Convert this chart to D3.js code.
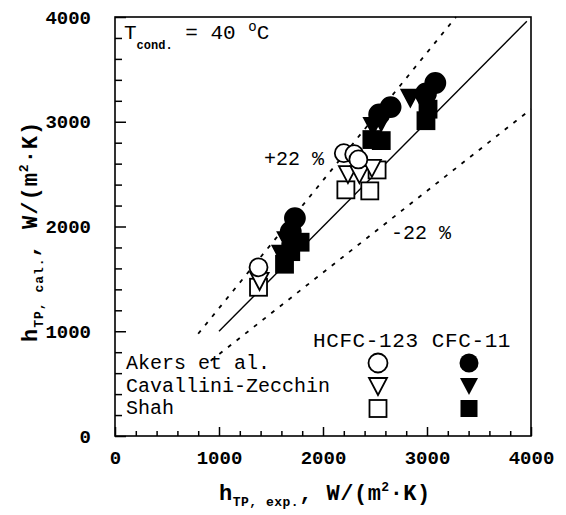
<!DOCTYPE html>
<html>
<head>
<meta charset="utf-8">
<script src="https://cdn.jsdelivr.net/npm/d3@7"></script>
<style>
  body { margin: 0; background: #fff; }
  text { font-family: "Liberation Mono", "DejaVu Sans Mono", monospace; fill: #000; }
</style>
</head>
<body>
<div id="block"></div>
<script>
// data
var akers123 = [[1380, 1610], [2200, 2700], [2300, 2690], [2340, 2640]];
var cz123    = [[1390, 1480], [2240, 2500], [2350, 2500], [2470, 2560]];
var shah123  = [[1380, 1420], [2220, 2350], [2450, 2340], [2520, 2540]];

var akers11 = [[1730, 2080], [1690, 1950], [2650, 3140], [2540, 3070], [3080, 3370], [2990, 3270]];
var cz11    = [[1650, 1870], [1600, 1740], [2480, 2960], [2560, 3000], [2840, 3230], [2960, 3200]];
var shah11  = [[1780, 1850], [1630, 1640], [1690, 1760], [2470, 2830], [2560, 2820], [2990, 3010], [3010, 3120]];

var xTicks = d3.range(0, 4001, 200);
var yTicks = d3.range(0, 4001, 200);

var legendRows = ["Akers et al.", "Cavallini-Zecchin", "Shah"];

// dimensions
var svg_dx = 566, svg_dy = 515;
var x = d3.scaleLinear().domain([0, 4000]).range([115, 531]);
var y = d3.scaleLinear().domain([0, 4000]).range([436, 17]);

var svg = d3.select("#block").append("svg")
    .attr("width", svg_dx)
    .attr("height", svg_dy);

// frame
svg.append("rect")
    .attr("x", x(0)).attr("y", y(4000))
    .attr("width", x(4000) - x(0)).attr("height", y(0) - y(4000))
    .attr("fill", "none").attr("stroke", "#000").attr("stroke-width", 1.6);

// x axis, ticks pointing inward
var xAxis = svg.append("g")
    .attr("transform", "translate(0," + y(0) + ")")
    .call(d3.axisBottom(x).tickValues(xTicks).tickSize(-5).tickPadding(22)
        .tickFormat(function (d) { return d % 1000 === 0 ? d : ""; }));
xAxis.select(".domain").remove();
xAxis.selectAll(".tick line")
    .attr("stroke-width", 1.5)
    .attr("y2", function (d) { return d % 1000 === 0 ? -9 : -5; });
xAxis.selectAll(".tick text")
    .style("font-size", "19px").style("font-weight", "bold")
    .style("font-family", "'Liberation Mono', monospace").attr("dy", "0.3em");

// y axis
var yAxis = svg.append("g")
    .attr("transform", "translate(" + x(0) + ",0)")
    .call(d3.axisLeft(y).tickValues(yTicks).tickSize(-7).tickPadding(24)
        .tickFormat(function (d) { return d % 1000 === 0 ? d : ""; }));
yAxis.select(".domain").remove();
yAxis.selectAll(".tick line")
    .attr("stroke-width", 1.5)
    .attr("x2", function (d) { return d % 1000 === 0 ? 11 : 7; });
yAxis.selectAll(".tick text")
    .style("font-size", "19px").style("font-weight", "bold")
    .style("font-family", "'Liberation Mono', monospace");

// reference lines
var line = d3.line().x(function (d) { return x(d[0]); }).y(function (d) { return y(d[1]); });
var upper = [800, 4000 / 1.22].map(function (v) { return [v, v * 1.22]; });
var lower = [920, 4000].map(function (v) { return [v, v * 0.78]; });
var diag = [1000, 3960].map(function (v) { return [v, v]; });

svg.append("path").attr("d", line(diag))
    .attr("stroke", "#000").attr("stroke-width", 1.4).attr("fill", "none");
svg.append("path").attr("d", line(upper))
    .attr("stroke", "#000").attr("stroke-width", 1.8).attr("fill", "none")
    .attr("stroke-dasharray", "4,7");
svg.append("path").attr("d", line(lower))
    .attr("stroke", "#000").attr("stroke-width", 1.8).attr("fill", "none")
    .attr("stroke-dasharray", "4,7");

// markers
var triPath = "M-9,-8L9,-8L0,9Z";

function circles(data, filled) {
    svg.append("g").selectAll("circle").data(data).enter().append("circle")
        .attr("cx", function (d) { return x(d[0]); })
        .attr("cy", function (d) { return y(d[1]); })
        .attr("r", filled ? 10 : 9)
        .attr("fill", filled ? "#000" : "#fff")
        .attr("stroke", "#000").attr("stroke-width", 1.8);
}
function triangles(data, filled) {
    svg.append("g").selectAll("path").data(data).enter().append("path")
        .attr("d", triPath)
        .attr("transform", function (d) { return "translate(" + x(d[0]) + "," + y(d[1]) + ")"; })
        .attr("fill", filled ? "#000" : "#fff")
        .attr("stroke", "#000").attr("stroke-width", 1.8);
}
function squares(data, filled) {
    svg.append("g").selectAll("rect").data(data).enter().append("rect")
        .attr("x", function (d) { return x(d[0]) - 8.5; })
        .attr("y", function (d) { return y(d[1]) - 8.5; })
        .attr("width", 17).attr("height", 17)
        .attr("fill", filled ? "#000" : "#fff")
        .attr("stroke", "#000").attr("stroke-width", 1.8);
}

squares(shah123, false);
triangles(cz123, false);
circles(akers123, false);
squares(shah11, true);
triangles(cz11, true);
circles(akers11, true);

// annotations
var t = svg.append("text").attr("x", 124).attr("y", 39).style("font-size", "21px");
t.append("tspan").text("T");
t.append("tspan").attr("dy", 10).style("font-size", "12px").style("font-weight", "bold").text("cond.");
t.append("tspan").attr("dy", -10).text(" = 40 ");
t.append("tspan").attr("dy", -8).style("font-size", "14px").text("o");
t.append("tspan").attr("dy", 8).text("C");

svg.append("text").attr("x", 264).attr("y", 165).style("font-size", "20px").text("+22 %");
svg.append("text").attr("x", 391).attr("y", 239).style("font-size", "20px").text("-22 %");

// legend
svg.append("text").attr("x", 313).attr("y", 347).style("font-size", "21px")
    .style("letter-spacing", "0.6px").text("HCFC-123 CFC-11");
legendRows.forEach(function (name, i) {
    var ly = 363 + i * 22.5;
    svg.append("text").attr("x", 126).attr("y", ly + 6).style("font-size", "20px").text(name);
});
var lgX1 = 378, lgX2 = 469;
svg.append("circle").attr("cx", lgX1).attr("cy", 363).attr("r", 9.5)
    .attr("fill", "#fff").attr("stroke", "#000").attr("stroke-width", 1.8);
svg.append("circle").attr("cx", lgX2).attr("cy", 363).attr("r", 9.5).attr("fill", "#000");
svg.append("path").attr("d", triPath).attr("transform", "translate(" + lgX1 + ",386)")
    .attr("fill", "#fff").attr("stroke", "#000").attr("stroke-width", 1.8);
svg.append("path").attr("d", triPath).attr("transform", "translate(" + lgX2 + ",386)").attr("fill", "#000");
svg.append("rect").attr("x", lgX1 - 8.5).attr("y", 400).attr("width", 17).attr("height", 17)
    .attr("fill", "#fff").attr("stroke", "#000").attr("stroke-width", 1.8);
svg.append("rect").attr("x", lgX2 - 8.5).attr("y", 400).attr("width", 17).attr("height", 17).attr("fill", "#000");

// axis titles
var xt = svg.append("text").attr("x", 219).attr("y", 500).style("font-size", "22px")
    .style("font-weight", "bold").style("letter-spacing", "0.5px");
xt.append("tspan").text("h");
xt.append("tspan").attr("dy", 6).style("font-size", "13px").text("TP, exp.");
xt.append("tspan").attr("dy", -6).text(", W/(m");
xt.append("tspan").attr("dy", -9).style("font-size", "13px").text("2");
xt.append("tspan").attr("dy", 9).text("\u00b7K)");

var yt = svg.append("text").attr("transform", "translate(37,342) rotate(-90)")
    .style("font-size", "22px").style("font-weight", "bold").style("letter-spacing", "1px");
yt.append("tspan").text("h");
yt.append("tspan").attr("dy", 6).style("font-size", "13px").text("TP, cal.");
yt.append("tspan").attr("dy", -6).text(", W/(m");
yt.append("tspan").attr("dy", -9).style("font-size", "13px").text("2");
yt.append("tspan").attr("dy", 9).text("\u00b7K)");
</script>
</body>
</html>
